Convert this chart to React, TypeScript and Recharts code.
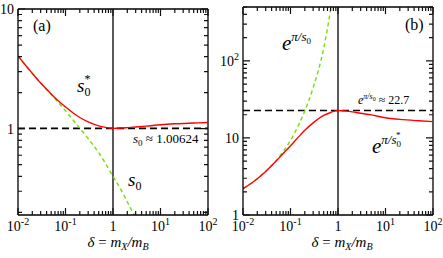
import React from 'react';
import { LineChart, Line, XAxis, YAxis, ReferenceLine } from 'recharts';

// delta = m_X / m_B
const DELTA = [0.01, 0.015, 0.02, 0.03, 0.05, 0.07, 0.1, 0.15, 0.2, 0.3, 0.5, 0.7, 1, 1.5, 2, 3, 5, 10, 20, 50, 100];

// panel (a)
const S0_STAR = [4.05, 3.32, 2.9, 2.41, 1.95, 1.71, 1.52, 1.34, 1.24, 1.14, 1.056, 1.025, 1.006, 1.012, 1.02, 1.033, 1.05, 1.08, 1.1, 1.115, 1.125];
const S0 = [4.05, 3.32, 2.9, 2.41, 1.93, 1.66, 1.41, 1.16, 1.01, 0.826, 0.63, 0.51, 0.4, 0.305, 0.245, 0.18, 0.12, null, null, null, null];
const S0_LIMIT = 1.00624;

// panel (b)
const EXP_S0_STAR = [2.2, 2.58, 2.95, 3.68, 5.01, 6.28, 7.9, 10.4, 12.6, 15.7, 19.6, 21.4, 22.7, 22.3, 21.8, 20.9, 19.9, 18.3, 17.4, 16.7, 16.3];
const EXP_S0 = [2.2, 2.58, 2.95, 3.68, 5.09, 6.64, 9.28, 15.0, 22.4, 44.9, 146, 474, 2575, null, null, null, null, null, null, null, null];
const EXP_S0_LIMIT = 22.7;

const X_MAJOR = [0.01, 0.1, 1, 10, 100];
const X_LABELS = [['10', '-2'], ['10', '-1'], ['1', ''], ['10', '1'], ['10', '2']];
const YA_MAJOR = [1, 10];
const YA_LABELS = [['1', ''], ['10', '']];
const YB_MAJOR = [1, 10, 100];
const YB_LABELS = [['1', ''], ['10', ''], ['10', '2']];

const X_DOMAIN = [0.01, 100];
const YA_DOMAIN = [0.19, 10];
const YB_DOMAIN = [1, 500];

const FONT = 'Liberation Serif';
const RED = '#ff0000';
const GREEN = '#70e000';

function logTicks(fromExp: number, toExp: number, lo: number, hi: number) {
  const out: number[] = [];
  for (let d = fromExp; d <= toExp; d++) {
    for (let k = 1; k <= 9; k++) {
      const v = Number((k * Math.pow(10, d)).toPrecision(3));
      if (v >= lo && v <= hi) out.push(v);
    }
  }
  return out;
}

const X_TICKS = logTicks(-2, 2, 0.01, 100);
const YA_TICKS = logTicks(-1, 1, 0.19, 10);
const YB_TICKS = logTicks(0, 2, 1, 500);

const findMajor = (majors: number[], v: number) => majors.findIndex((m) => Math.abs(m - v) / m < 1e-6);

const txt = { fontFamily: FONT };

function TickLabel({ x, y, anchor, label }: any) {
  return (
    <text x={x} y={y} textAnchor={anchor} style={txt} fontSize={14} fill="#000">
      {label[0]}
      {label[1] && (
        <tspan dy={-6} fontSize={10}>
          {label[1]}
        </tspan>
      )}
    </text>
  );
}

// inward ticks on both opposite edges of the frame
function makeBottomTick(plotH: number) {
  return (props: any) => {
    const { x, y, payload } = props;
    const i = findMajor(X_MAJOR, payload.value);
    const len = i >= 0 ? 7 : 4;
    const top = y - plotH;
    return (
      <g>
        <path d={`M${x},${y}L${x},${y - len}M${x},${top}L${x},${top + len}`} stroke="#111" strokeWidth={1.2} />
        {i >= 0 && <TickLabel x={x} y={y + 16} anchor="middle" label={X_LABELS[i]} />}
      </g>
    );
  };
}

function makeLeftTick(majors: number[], labels: string[][], plotW: number) {
  return (props: any) => {
    const { x, y, payload } = props;
    const i = findMajor(majors, payload.value);
    const len = i >= 0 ? 7 : 4;
    const right = x + plotW;
    return (
      <g>
        <path d={`M${x},${y}L${x + len},${y}M${right},${y}L${right - len},${y}`} stroke="#111" strokeWidth={1.2} />
        {i >= 0 && <TickLabel x={x - 4} y={y + 5} anchor="end" label={labels[i]} />}
      </g>
    );
  };
}

function AxisTitle({ x }: { x: number }) {
  return (
    <text x={x} y={247} textAnchor="middle" style={txt} fontSize={15} fill="#000">
      <tspan fontStyle="italic">δ</tspan>
      {' = '}
      <tspan fontStyle="italic">m</tspan>
      <tspan dy={3} fontSize={10} fontStyle="italic">X</tspan>
      <tspan dy={-3} fontStyle="italic">/m</tspan>
      <tspan dy={3} fontSize={10} fontStyle="italic">B</tspan>
    </text>
  );
}

const axisLine = { stroke: '#000', strokeWidth: 1.3 };

const leftData = DELTA.map((x, i) => ({ x, star: S0_STAR[i], s0: S0[i] }));
const rightData = DELTA.map((x, i) => ({ x, star: EXP_S0_STAR[i], s0: EXP_S0[i] }));

function PanelA() {
  return (
    <LineChart width={220} height={258} data={leftData} margin={{ top: 9, right: 12, bottom: 0, left: 0 }}>
      <XAxis dataKey="x" type="number" scale="log" domain={X_DOMAIN} allowDataOverflow ticks={X_TICKS} interval={0}
        tickSize={0} tickMargin={0} tickLine={false} axisLine={axisLine} height={43} tick={makeBottomTick(206)} />
      <YAxis type="number" scale="log" domain={YA_DOMAIN} allowDataOverflow ticks={YA_TICKS} interval={0} tickSize={0}
        tickMargin={0} tickLine={false} axisLine={axisLine} width={18} tick={makeLeftTick(YA_MAJOR, YA_LABELS, 190)} />
      <ReferenceLine x={X_DOMAIN[1]} stroke="#000" strokeWidth={1.3} />
      <ReferenceLine y={YA_DOMAIN[1]} stroke="#000" strokeWidth={1.3} />
      <ReferenceLine x={1} stroke="#000" strokeWidth={1.3} />
      <ReferenceLine y={S0_LIMIT} stroke="#000" strokeWidth={1.6} strokeDasharray="7 4" />
      <Line dataKey="s0" stroke={GREEN} strokeWidth={1.4} strokeDasharray="4 3" dot={false} type="monotone" isAnimationActive={false} />
      <Line dataKey="star" stroke={RED} strokeWidth={1.4} dot={false} type="monotone" isAnimationActive={false} />
      <text x={33} y={31} style={txt} fontSize={16} fill="#000">(a)</text>
      <text x={77} y={92} style={txt} fill="#000">
        <tspan fontStyle="italic" fontSize={19}>s</tspan>
        <tspan dy={4} fontSize={12}>0</tspan>
        <tspan dx={-6} dy={-13} fontSize={12}>*</tspan>
      </text>
      <text x={133} y={143} style={txt} fill="#000" fontSize={13}>
        <tspan fontStyle="italic">s</tspan>
        <tspan dy={3} fontSize={9}>0</tspan>
        <tspan dy={-3}>{' ≈ 1.00624'}</tspan>
      </text>
      <text x={128} y={186} style={txt} fill="#000">
        <tspan fontStyle="italic" fontSize={19}>s</tspan>
        <tspan dy={4} fontSize={12}>0</tspan>
      </text>
      <AxisTitle x={118} />
    </LineChart>
  );
}

function PanelB() {
  return (
    <LineChart width={223} height={258} data={rightData} margin={{ top: 7, right: 10, bottom: 0, left: 0 }}>
      <XAxis dataKey="x" type="number" scale="log" domain={X_DOMAIN} allowDataOverflow ticks={X_TICKS} interval={0}
        tickSize={0} tickMargin={0} tickLine={false} axisLine={axisLine} height={43} tick={makeBottomTick(208)} />
      <YAxis type="number" scale="log" domain={YB_DOMAIN} allowDataOverflow ticks={YB_TICKS} interval={0} tickSize={0}
        tickMargin={0} tickLine={false} axisLine={axisLine} width={23} tick={makeLeftTick(YB_MAJOR, YB_LABELS, 190)} />
      <ReferenceLine x={X_DOMAIN[1]} stroke="#000" strokeWidth={1.3} />
      <ReferenceLine y={YB_DOMAIN[1]} stroke="#000" strokeWidth={1.3} />
      <ReferenceLine x={1} stroke="#000" strokeWidth={1.3} />
      <ReferenceLine y={EXP_S0_LIMIT} stroke="#000" strokeWidth={1.6} strokeDasharray="7 4" />
      <Line dataKey="s0" stroke={GREEN} strokeWidth={1.4} strokeDasharray="4 3" dot={false} type="monotone" isAnimationActive={false} />
      <Line dataKey="star" stroke={RED} strokeWidth={1.4} dot={false} type="monotone" isAnimationActive={false} />
      <text x={185} y={30} style={txt} fontSize={16} fill="#000">(b)</text>
      <text x={62} y={50} style={txt} fill="#000">
        <tspan fontStyle="italic" fontSize={21}>e</tspan>
        <tspan dy={-9} fontSize={13} fontStyle="italic">π/s</tspan>
        <tspan dy={3} fontSize={9}>0</tspan>
      </text>
      <text x={138} y={104} style={txt} fill="#000" fontSize={12}>
        <tspan fontStyle="italic">e</tspan>
        <tspan dy={-5} fontSize={8} fontStyle="italic">π/s</tspan>
        <tspan dy={2} fontSize={6}>0</tspan>
        <tspan dy={3}>{' ≈ 22.7'}</tspan>
      </text>
      <text x={152} y={153} style={txt} fill="#000">
        <tspan fontStyle="italic" fontSize={21}>e</tspan>
        <tspan dy={-9} fontSize={13} fontStyle="italic">π/s</tspan>
        <tspan dy={3} fontSize={9}>0</tspan>
        <tspan dx={-5} dy={-9} fontSize={9}>*</tspan>
      </text>
      <AxisTitle x={122} />
    </LineChart>
  );
}

export default function App() {
  return (
    <div style={{ position: 'absolute', left: 0, top: 0, width: 443, height: 258, background: '#fff' }}>
      <div style={{ position: 'absolute', left: 0, top: 0 }}>
        <PanelA />
      </div>
      <div style={{ position: 'absolute', left: 220, top: 0 }}>
        <PanelB />
      </div>
    </div>
  );
}
